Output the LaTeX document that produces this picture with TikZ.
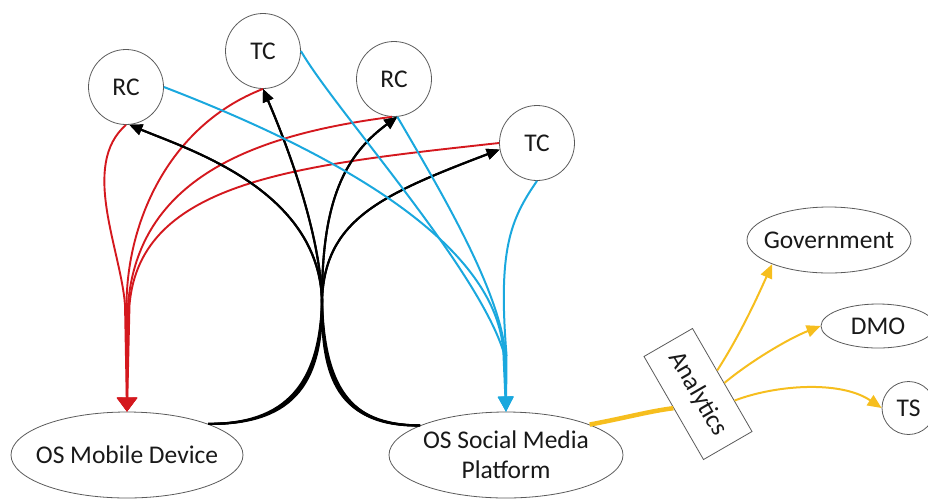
\documentclass[tikz,border=0pt]{standalone}
\usepackage{fontspec}
\setmainfont{Carlito}
\usetikzlibrary{shapes.geometric,arrows.meta,calc}
\definecolor{linkred}{RGB}{212,24,30}
\definecolor{linkblue}{RGB}{26,168,222}
\definecolor{linkgold}{RGB}{246,190,30}
\definecolor{rim}{RGB}{90,90,90}
\begin{document}
\begin{tikzpicture}[x=1pt,y=-1pt,
  font=\fontsize{25.5}{30}\selectfont,
  actor/.style={circle,draw=rim,line width=0.8pt,minimum size=75pt,inner sep=0pt,text=black!90},
  platform/.style={ellipse,draw=rim,line width=0.8pt,inner xsep=-30pt,inner ysep=-8pt,text=black!90,align=center},
  stage/.style={rectangle,draw=rim,line width=0.8pt,inner sep=0pt,text=black!90},
  blackline/.style={black,line width=2.1pt,-{Triangle[length=13pt,width=11pt]}},
  redline/.style={linkred,line width=1.9pt,-{Triangle[length=14pt,width=20pt]}},
  blueline/.style={linkblue,line width=2pt,-{Triangle[length=15pt,width=15pt]}},
  goldline/.style={linkgold,line width=2pt,-{Triangle[length=14pt,width=12pt]}},
  goldtrunk/.style={linkgold,line width=4.5pt}
]
\useasboundingbox (0,0) rectangle (928,499);

% consumers and creators
\node[actor] (RC1) at (126,87) {RC};
\node[actor] (TC1) at (263,51) {TC};
\node[actor] (RC2) at (394,79) {RC};
\node[actor] (TC2) at (537,143) {TC};

% platforms
\node[platform,minimum width=232pt,minimum height=86pt] (OSM) at (127,455) {OS Mobile Device};
\node[platform,minimum width=234pt,minimum height=86pt] (SMP) at (506,455) {OS Social Media\\Platform};

% analytics and its consumers
\node[stage,minimum width=119pt,minimum height=56pt,rotate=-60] (Analytics) at (698,394) {Analytics};
\node[platform,minimum width=164pt,minimum height=66pt] (Gov) at (829,240) {Government};
\node[platform,minimum width=114pt,minimum height=44pt] (DMO) at (878,326) {DMO};
\node[actor,minimum size=53pt] (TS) at (908.5,408) {TS};

% meeting points of the bundles
\coordinate (redknot) at (127,305);
\coordinate (blackknot) at (322,300);
\coordinate (blueknot) at (505,355);

% red: creators to the mobile device
\draw[redline] (RC1.south) .. controls (80,165) and (121,250) .. ([xshift=-2pt]redknot) -- (OSM.north);
\draw[redline] (TC1.south) .. controls (170,125) and (127,220) .. ([xshift=-0.5pt]redknot) -- (OSM.north);
\draw[redline] (RC2.-93) .. controls (250,135) and (138,180) .. ([xshift=1pt]redknot) -- (OSM.north);
\draw[redline] (TC2.west) .. controls (300,165) and (140,180) .. ([xshift=2.5pt]redknot) -- (OSM.north);

% black: both platforms back to every creator
\draw[blackline] (OSM.21) .. controls (286,424) and (320,384) .. (blackknot) .. controls (318,190) and (190,150) .. (RC1.-85);
\draw[blackline] (OSM.21) .. controls (290,425) and (321,382) .. (blackknot) .. controls (320,230) and (285,140) .. (TC1.south);
\draw[blackline] (OSM.21) .. controls (294,424) and (322,380) .. (blackknot) .. controls (322,200) and (345,155) .. (RC2.-85);
\draw[blackline] (OSM.21) .. controls (298,425) and (323,378) .. (blackknot) .. controls (325,220) and (380,195) .. (TC2.190);
\draw[blackline] (SMP.161) .. controls (349,427) and (324,384) .. (blackknot) .. controls (318,190) and (190,150) .. (RC1.-85);
\draw[blackline] (SMP.161) .. controls (345,425) and (323,382) .. (blackknot) .. controls (320,230) and (285,140) .. (TC1.south);
\draw[blackline] (SMP.161) .. controls (341,427) and (322,380) .. (blackknot) .. controls (322,200) and (345,155) .. (RC2.-85);
\draw[blackline] (SMP.161) .. controls (337,425) and (321,378) .. (blackknot) .. controls (325,220) and (380,195) .. (TC2.190);

% blue: creators to the social media platform
\draw[blueline] (RC1.east) .. controls (380,170) and (500,260) .. ([xshift=-1.5pt]blueknot) -- (SMP.north);
\draw[blueline] (TC1.east) .. controls (335,110) and (480,270) .. ([xshift=-0.5pt]blueknot) -- (SMP.north);
\draw[blueline] (RC2.-85) .. controls (440,190) and (500,290) .. ([xshift=0.5pt]blueknot) -- (SMP.north);
\draw[blueline] (TC2.south) .. controls (510,220) and (498,250) .. ([xshift=1.5pt]blueknot) -- (SMP.north);

% gold: platform through analytics to the stakeholders
\draw[goldtrunk] (SMP.20) .. controls (625,418) and (650,411) .. (Analytics.south);
\draw[goldline] ($(Analytics.north west)!0.41!(Analytics.north east)$) .. controls (740,335) and (757,298) .. (Gov.203);
\draw[goldline] ($(Analytics.north west)!0.53!(Analytics.north east)$) .. controls (752,360) and (790,338) .. (DMO.west);
\draw[goldline] ($(Analytics.north west)!0.70!(Analytics.north east)$) .. controls (775,385) and (840,380) .. (TS.west);
\end{tikzpicture}
\end{document}
